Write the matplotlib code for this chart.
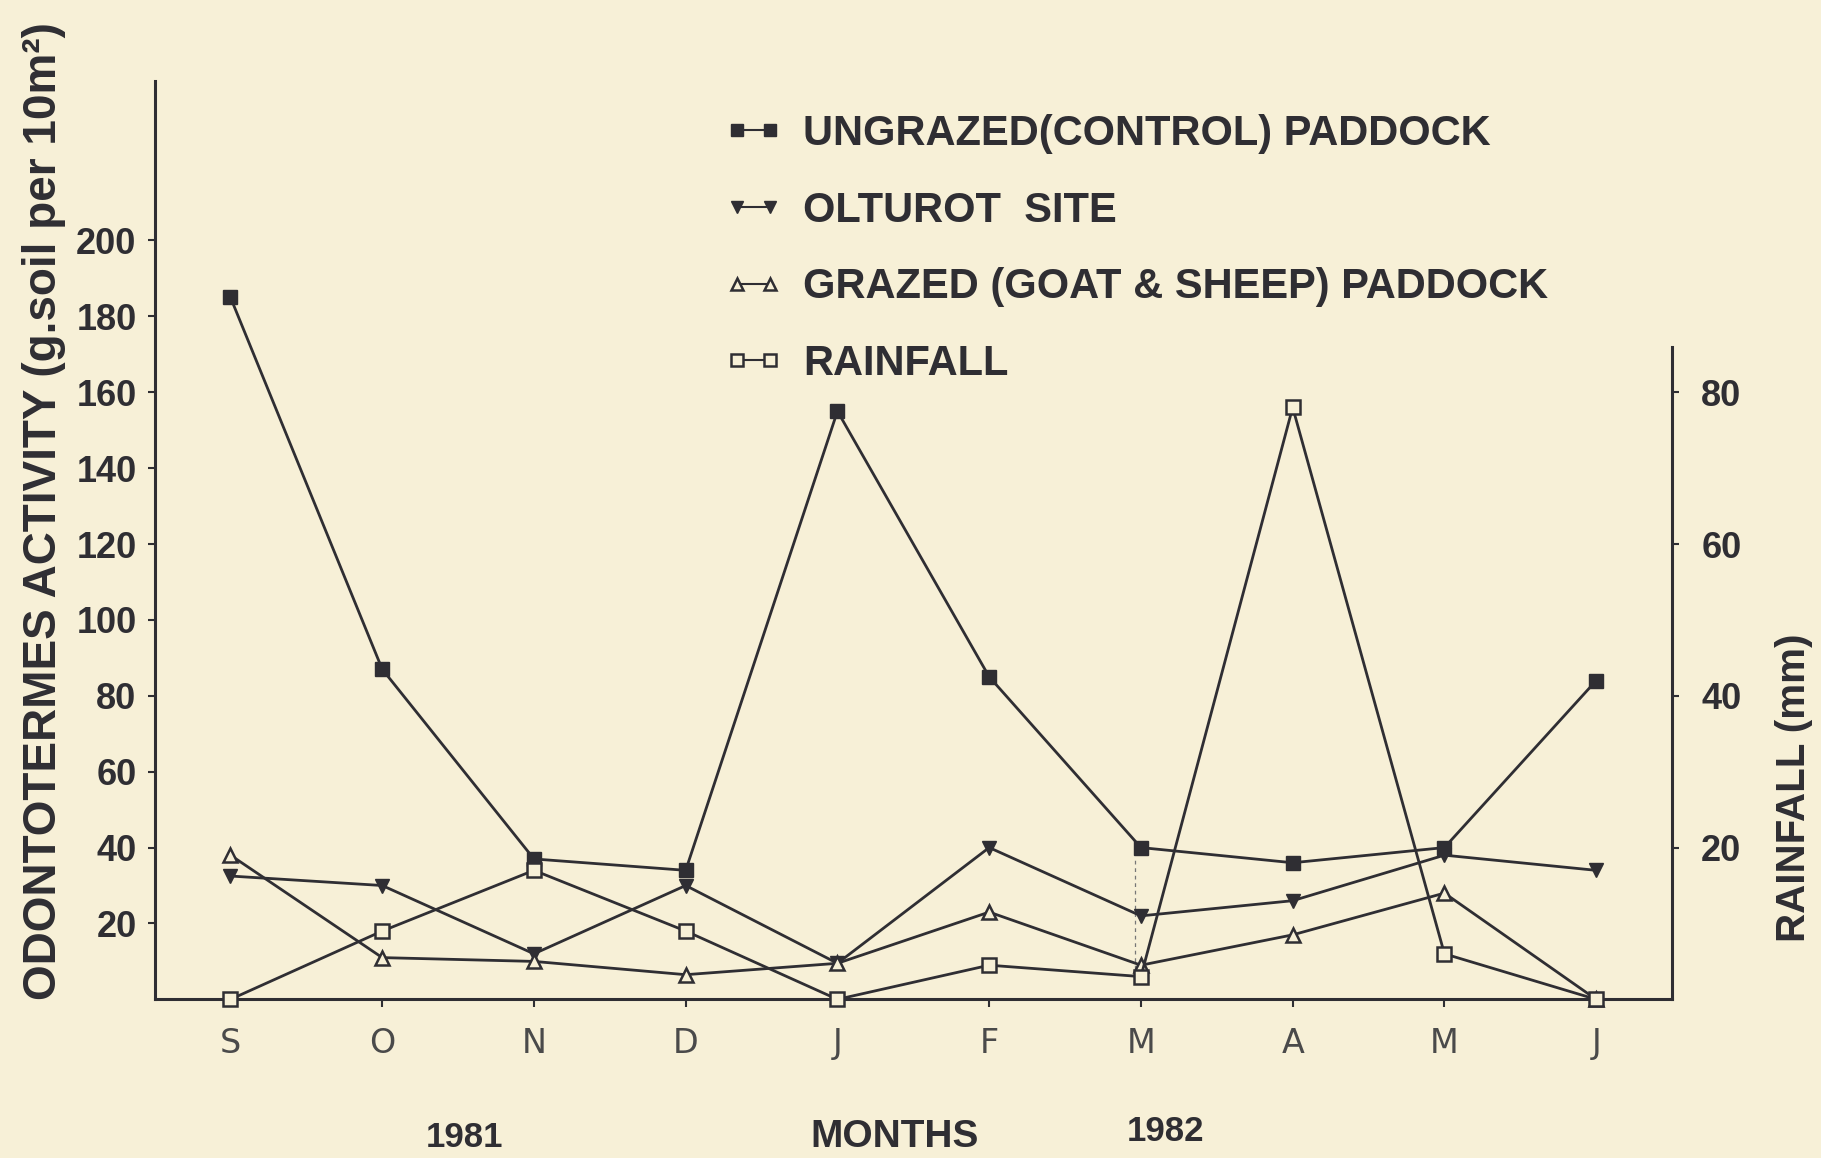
import matplotlib
matplotlib.use("Agg")
import matplotlib.pyplot as plt

# Monthly values, Sept 1981 - June 1982
months = ["S", "O", "N", "D", "J", "F", "M", "A", "M", "J"]
ungrazed = [185, 87, 37, 34, 155, 85, 40, 36, 40, 84]
olturot = [32.5, 30, 12, 30, 9.5, 40, 22, 26, 38, 34]
grazed = [38, 11, 10, 6.5, 9.5, 23, 9, 17, 28, 0]
rainfall = [0, 9, 17, 9, 0, 4.5, 3, 78, 6, 0]   # mm, right axis

left_ticks = [20, 40, 60, 80, 100, 120, 140, 160, 180, 200]
right_ticks = [20, 40, 60, 80]

PAPER = "#f7f0d7"
INK = "#2f2e33"
FONT = "Liberation Sans"

fig = plt.figure(figsize=(18.21, 11.58), dpi=100, facecolor=PAPER)
ax = fig.add_axes([0.0849, 0.137, 0.8333, 0.793])
ax.set_facecolor("none")
ax2 = ax.twinx()

x = list(range(len(months)))
ymax = 242
ax.set_xlim(-0.5, 9.5)
ax.set_ylim(0, ymax)
ax2.set_ylim(0, ymax / 2)

line_kw = dict(color=INK, lw=2.0, markersize=10, clip_on=False, zorder=3)
h1, = ax.plot(x, ungrazed, marker="s", mfc=INK, mec=INK,
              label="UNGRAZED(CONTROL) PADDOCK", **line_kw)
h2, = ax.plot(x, olturot, marker="v", mfc=INK, mec=INK,
              label="OLTUROT  SITE", **line_kw)
h3, = ax.plot(x, grazed, marker="^", mfc=PAPER, mec=INK, mew=1.8,
              label="GRAZED (GOAT & SHEEP) PADDOCK", **line_kw)
h4, = ax2.plot(x, rainfall, marker="s", mfc=PAPER, mec=INK, mew=1.8,
               label="RAINFALL", **line_kw)

# faint dashed divider at March
ax.vlines(6 - 0.04, 8, 37, colors="#777777", linestyles=(0, (3, 3)), lw=0.9)

# spines
for a in (ax, ax2):
    a.spines["top"].set_visible(False)
ax.spines["right"].set_visible(False)
ax2.spines["left"].set_visible(False)
ax2.spines["bottom"].set_visible(False)
for name in ("left", "bottom"):
    ax.spines[name].set_color(INK)
    ax.spines[name].set_linewidth(2.2)
ax2.spines["right"].set_color(INK)
ax2.spines["right"].set_linewidth(2.2)
ax2.spines["right"].set_bounds(0, 86)

# ticks
ax.set_xticks(x)
ax.set_xticklabels(months, fontfamily="Liberation Sans Narrow",
                   fontsize=24, color="#4a4a4a")
ax.tick_params(axis="x", direction="out", length=6, width=1.5,
               color=INK, pad=14)
ax.set_yticks(left_ticks)
ax.set_yticklabels([str(v) for v in left_ticks], fontfamily=FONT,
                   fontweight="bold", fontsize=26, color=INK)
ax.tick_params(axis="y", direction="out", length=5, width=1.5,
               color=INK, pad=8)
ax2.set_yticks(right_ticks)
ax2.set_yticklabels([str(v) for v in right_ticks], fontfamily=FONT,
                    fontweight="bold", fontsize=26, color=INK)
ax2.tick_params(axis="y", direction="out", length=5, width=1.5,
                color=INK, pad=16)

# axis titles
fig.text(0.024, 0.559, "ODONTOTERMES ACTIVITY (g.soil per 10m²)",
         rotation=90, ha="center", va="center", fontfamily=FONT,
         fontweight="bold", fontsize=33, color=INK)
fig.text(0.985, 0.32, "RAINFALL (mm)", rotation=90, ha="center",
         va="center", fontfamily=FONT, fontweight="bold", fontsize=29,
         color=INK)
fig.text(0.255, 0.018, "1981", ha="center", va="center", fontfamily=FONT,
         fontweight="bold", fontsize=25, color=INK)
fig.text(0.491, 0.018, "MONTHS", ha="center", va="center", fontfamily=FONT,
         fontweight="bold", fontsize=28, color=INK)
fig.text(0.640, 0.023, "1982", ha="center", va="center", fontfamily=FONT,
         fontweight="bold", fontsize=25, color=INK)

leg = fig.legend(handles=[h1, h2, h3, h4], loc="upper left",
                 bbox_to_anchor=(0.377, 0.934), frameon=False, numpoints=2,
                 handlelength=1.4, handletextpad=0.5, labelspacing=0.88,
                 prop={"family": FONT, "weight": "bold", "size": 30})
for t in leg.get_texts():
    t.set_color(INK)
for lh in leg.legend_handles:
    lh.set_markersize(8)
    lh.set_linewidth(1.5)

fig.savefig("out.png", dpi=100, facecolor=PAPER)
